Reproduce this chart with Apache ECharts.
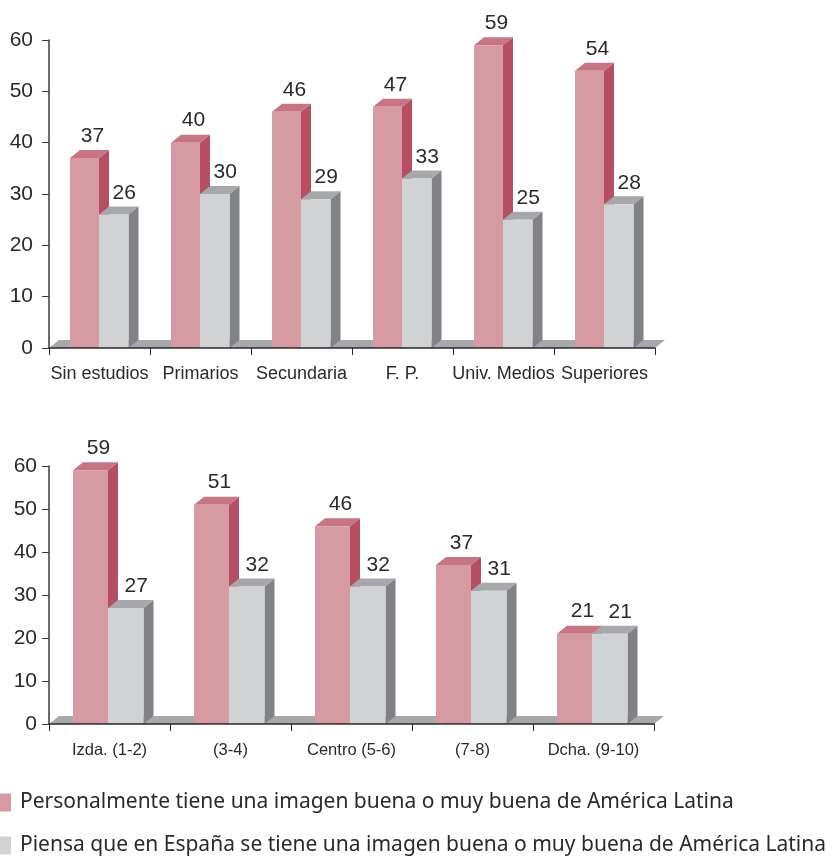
<!DOCTYPE html>
<html><head><meta charset="utf-8">
<style>html,body{margin:0;padding:0;background:#fff}#c{width:832px;height:856px}</style>
<script src="https://cdn.jsdelivr.net/npm/echarts@6/dist/echarts.min.js"></script>
</head><body><div id="c"></div>
<script>
const educationCategories = ['Sin estudios','Primarios','Secundaria','F. P.','Univ. Medios','Superiores'];
const educationPersonal = [37,40,46,47,59,54];
const educationSpain = [26,30,29,33,25,28];
const ideologyCategories = ['Izda. (1-2)','(3-4)','Centro (5-6)','(7-8)','Dcha. (9-10)'];
const ideologyPersonal = [59,51,46,37,21];
const ideologySpain = [27,32,32,31,21];
const yTicks = {min:0,max:60,interval:10};
const personalName = 'Personalmente tiene una imagen buena o muy buena de América Latina';
const spainName = 'Piensa que en España se tiene una imagen buena o muy buena de América Latina';

const FONT = '"Liberation Sans", Arial, sans-serif';
const TXT = '#2a2a2c';
const DX = 10, DY = 8;
const PINK = {front:'#d69aa2', top:'#c77485', side:'#b74f64'};
const GREY = {front:'#d0d2d4', top:'#a6a8ab', side:'#808285'};

function bar3d(colors, barW, isLeft, shift, labelDx, labelDy){
  return function(params, api){
    const c = api.coord([api.value(0), api.value(1)]);
    const base = api.coord([api.value(0), 0]);
    const x0 = (isLeft ? c[0]-barW : c[0]) + shift, x1 = x0+barW, y0=c[1], yb=base[1];
    return {type:'group', children:[
      {type:'polygon', shape:{points:[[x1,y0],[x1+DX,y0-DY],[x1+DX,yb-DY],[x1,yb]]}, style:{fill:colors.side}},
      {type:'polygon', shape:{points:[[x0,y0],[x1,y0],[x1+DX,y0-DY],[x0+DX,y0-DY]]}, style:{fill:colors.top}},
      {type:'rect', shape:{x:x0,y:y0,width:barW,height:yb-y0}, style:{fill:colors.front}},
      {type:'text', x:(x0+x1)/2+labelDx, y:y0-labelDy, style:{text:String(api.value(1)), fill:TXT, font:'21px '+FONT, textAlign:'center', textVerticalAlign:'middle'}}
    ]};
  };
}
function floor(params, api){
  const cs = params.coordSys;
  const yb = cs.y+cs.height;
  return {type:'polygon', shape:{points:[[cs.x,yb],[cs.x+cs.width,yb],[cs.x+cs.width+DX,yb-DY],[cs.x+DX,yb-DY]]}, style:{fill:GREY.top}};
}
function rows(vals){return vals.map((v,i)=>[i,v]);}
function panel(idx, personal, spain, barL, barR, shift){
  return [
    {type:'custom', silent:true, xAxisIndex:idx, yAxisIndex:idx, z:1, data:[[0,0]], renderItem:floor},
    {type:'custom', name:personalName, xAxisIndex:idx, yAxisIndex:idx, z:2, itemStyle:{color:PINK.front}, data:rows(personal), renderItem:bar3d(PINK,barL,true,shift,8,22)},
    {type:'custom', name:spainName, xAxisIndex:idx, yAxisIndex:idx, z:3, itemStyle:{color:GREY.front}, data:rows(spain), renderItem:bar3d(GREY,barR,false,shift,10.5,21.5)}
  ];
}
function yAxis(idx){
  return Object.assign({type:'value', gridIndex:idx, z:5, splitLine:{show:false},
    axisLine:{show:true,lineStyle:{color:'#3a3a3c',width:1.5}},
    axisTick:{show:true,length:7,lineStyle:{color:'#3a3a3c',width:1}},
    axisLabel:{color:TXT,fontFamily:FONT,fontSize:21,margin:idx?12:16}}, yTicks);
}
function xAxis(idx,cats,fs,margin){
  return {type:'category', gridIndex:idx, data:cats, z:5,
    axisLine:{show:true,lineStyle:{color:'#2a2a2c',width:1.5}},
    axisTick:{show:true,length:7,alignWithLabel:false,lineStyle:{color:'#2a2a2c',width:1}},
    axisLabel:{interval:0,hideOverlap:false,color:TXT,fontFamily:FONT,fontSize:fs,margin}};
}
function legendRow(name, top){
  return {show:true,left:0,top,orient:'vertical',itemWidth:11,itemHeight:18,icon:'rect',
    data:[name],selectedMode:false,padding:0,
    textStyle:{color:TXT,fontFamily:'"Noto Sans", sans-serif',fontSize:21,padding:[0,0,0,4]}};
}
const chart = echarts.init(document.getElementById('c'),null,{renderer:'canvas'});
chart.setOption({
  animation:false,
  backgroundColor:'#fff',
  grid:[
    {left:49,top:40,width:606,height:308},
    {left:49,top:466,width:605,height:258}
  ],
  xAxis:[xAxis(0,educationCategories,18,17),xAxis(1,ideologyCategories,16.5,18)],
  yAxis:[yAxis(0),yAxis(1)],
  legend:[legendRow(personalName,792),legendRow(spainName,835)],
  series:[...panel(0,educationPersonal,educationSpain,29,29.5,-0.5),...panel(1,ideologyPersonal,ideologySpain,35,35.5,-1.5)]
});
</script></body></html>
